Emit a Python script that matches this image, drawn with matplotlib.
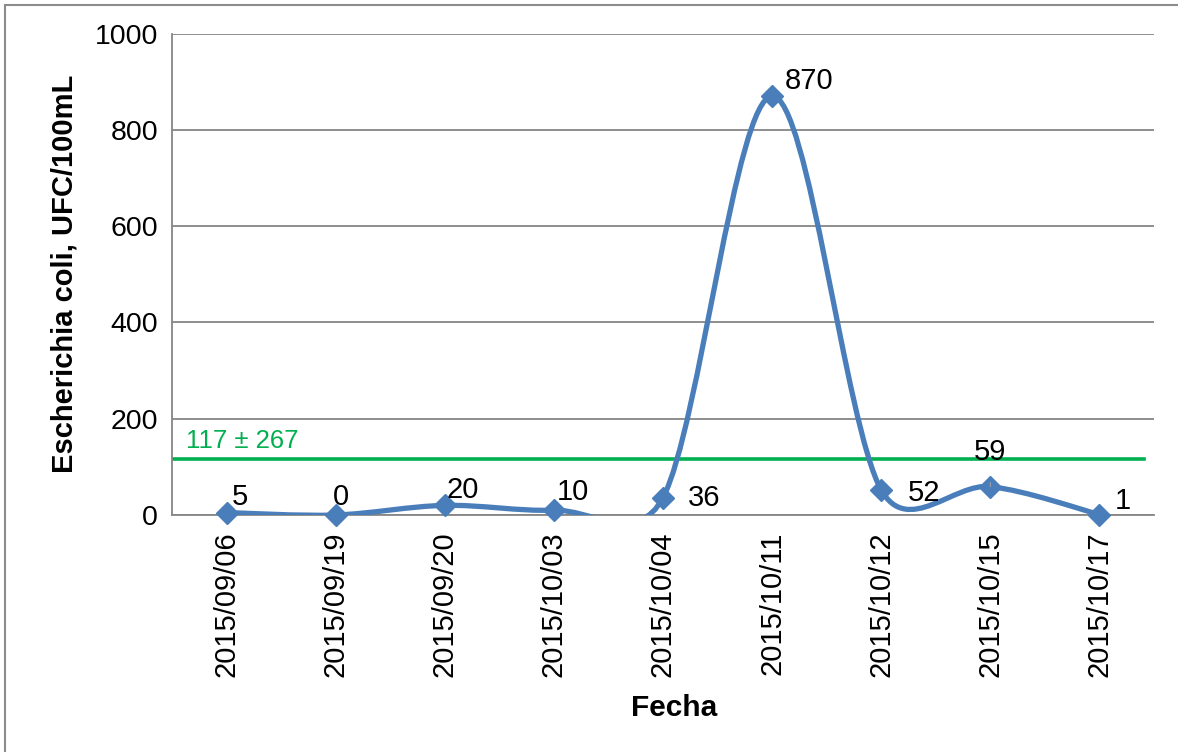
import numpy as np
import matplotlib
matplotlib.use("Agg")
import matplotlib.pyplot as plt
from matplotlib.path import Path
from matplotlib.patches import PathPatch, Rectangle

plt.rcParams["font.family"] = ["Liberation Sans", "DejaVu Sans"]

# Sampling dates and E. coli counts
fechas = ["2015/09/06", "2015/09/19", "2015/09/20", "2015/10/03", "2015/10/04",
          "2015/10/11", "2015/10/12", "2015/10/15", "2015/10/17"]
ecoli = [5, 0, 20, 10, 36, 870, 52, 59, 1]
y_ticks = [0, 200, 400, 600, 800, 1000]

# Label placement (offset in points from each marker, horizontal alignment)
label_offsets = [(4, 11), (-2, 13), (1, 11), (2, 13), (18, 0), (9, 11), (19, -2), (0, 25), (11, 10)]
label_ha = ["left", "left", "left", "left", "left", "left", "left", "center", "left"]

mean_val = np.mean(ecoli)
std_val = np.std(ecoli)

BLUE = "#4a7ebb"
GREEN = "#00b050"
GRID = "#868686"

W, H = 1178, 752
fig = plt.figure(figsize=(W / 100, H / 100), dpi=100)
fig.patch.set_facecolor("white")

# Chart frame (top and left edges visible)
fig.add_artist(Rectangle((5 / W, -0.05), 1.2, 1 - 5 / H + 0.05, transform=fig.transFigure,
                         fill=False, edgecolor="#8c8c8c", lw=1.5))

ax = fig.add_axes([172 / W, 1 - 515 / H, (1154 - 172) / W, (515 - 33.5) / H])
x = np.arange(len(fechas))
ax.set_xlim(-0.5, len(fechas) - 0.5)
ax.set_ylim(0, 1000)
ax.set_yticks(y_ticks)
ax.set_xticks(x)
ax.set_xticklabels(fechas, rotation=90, fontsize=21)
ax.tick_params(axis="y", labelsize=20.5, length=0, pad=10)
ax.tick_params(axis="x", length=0, pad=12)
ax.grid(axis="y", color=GRID, lw=1.3)
ax.set_axisbelow(True)
for s in ["top", "right"]:
    ax.spines[s].set_visible(False)
for s in ["left", "bottom"]:
    ax.spines[s].set_color(GRID)
    ax.spines[s].set_linewidth(1.3)

ax.set_ylabel("Escherichia coli, UFC/100mL", fontsize=21, fontweight="bold", labelpad=12)
ax.set_xlabel("Fecha", fontsize=21.5, fontweight="bold", labelpad=12)
ax.xaxis.label.set_x(0.511)

# Smoothed line: cubic Bezier segments built in display space, then mapped back to data
pts = ax.transData.transform(np.column_stack([x, ecoli]).astype(float))
n = len(pts)
verts = [pts[0]]
codes = [Path.MOVETO]
for i in range(n - 1):
    p0 = pts[i - 1] if i > 0 else pts[i]
    p1 = pts[i]
    p2 = pts[i + 1]
    p3 = pts[i + 2] if i + 2 < n else pts[i + 1]
    seg = np.linalg.norm(p2 - p1)
    t1 = (p2 - p0) / 6.0
    t2 = (p3 - p1) / 6.0
    l1 = np.linalg.norm(t1)
    l2 = np.linalg.norm(t2)
    if l1 > seg / 2 and l1 > 0:
        t1 = t1 * (seg / 2) / l1
    if l2 > seg / 2 and l2 > 0:
        t2 = t2 * (seg / 2) / l2
    verts += [p1 + t1, p2 - t2, p2]
    codes += [Path.CURVE4] * 3
verts = ax.transData.inverted().transform(np.array(verts))
ax.add_patch(PathPatch(Path(verts, codes), facecolor="none", edgecolor=BLUE, lw=3.8,
                       capstyle="round", joinstyle="round", zorder=3))

ax.plot(x, ecoli, linestyle="none", marker="D", markersize=11, color=BLUE,
        clip_on=False, zorder=4)

# Mean line with mean ± std label
ax.axhline(mean_val, xmin=0, xmax=0.99, color=GREEN, lw=2.6, zorder=2)
ax.text(-0.37, mean_val + 12, f"{mean_val:.0f} ± {std_val:.0f}", color=GREEN, fontsize=18.5,
        ha="left", va="bottom")

# Data labels
for xi, v, off, ha in zip(x, ecoli, label_offsets, label_ha):
    kw = {}
    if ha == "center":
        kw["arrowprops"] = dict(arrowstyle="-", color="#a0a0a0", lw=0.8, shrinkA=10, shrinkB=6)
    ax.annotate(f"{v}", (xi, v), xytext=off, textcoords="offset points", fontsize=21,
                ha=ha, va="center", color="black",
                annotation_clip=False, zorder=5, **kw)

fig.savefig("out.png", dpi=100)
